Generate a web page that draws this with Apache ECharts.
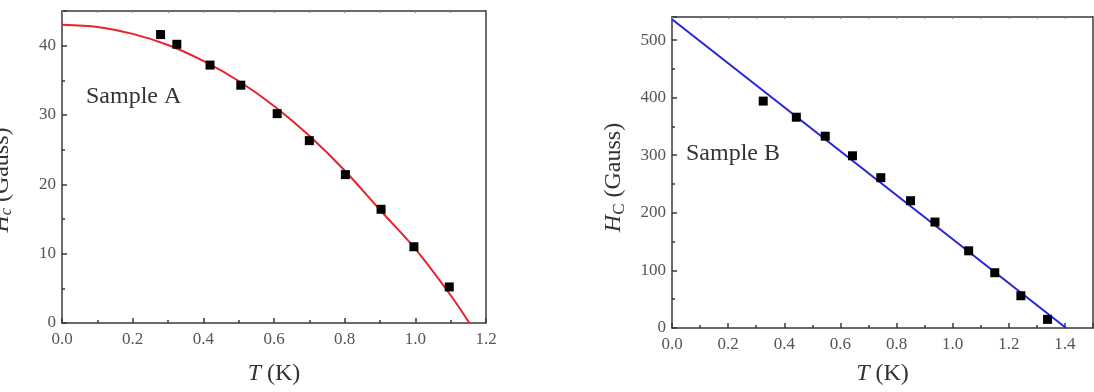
<!DOCTYPE html>
<html>
<head>
<meta charset="utf-8">
<script src="https://cdn.jsdelivr.net/npm/echarts@6/dist/echarts.min.js"></script>
<style>
html, body { margin: 0; padding: 0; background: #fff; }
#main { width: 1094px; height: 392px; }
</style>
</head>
<body>
<div id="main"></div>
<script>
// Sample A: measured points and fit curve
var tA = [0.279, 0.325, 0.419, 0.506, 0.609, 0.700, 0.802, 0.903, 0.996, 1.096];
var hA = [41.6, 40.2, 37.2, 34.3, 30.2, 26.3, 21.4, 16.4, 11.0, 5.2];
var fitTA = [0, 0.1, 0.2, 0.3, 0.4, 0.5, 0.6, 0.7, 0.8, 0.9, 1.0, 1.1, 1.153];
var fitHA = [43.0, 42.7, 41.7, 40.1, 37.8, 34.9, 31.3, 27.0, 22.0, 16.3, 10.7, 4.0, 0];

// Sample B: measured points and linear fit
var tB = [0.325, 0.443, 0.546, 0.643, 0.744, 0.850, 0.937, 1.057, 1.150, 1.243, 1.338];
var hB = [394, 366, 333, 299, 261, 221, 184, 134, 96, 56, 15];
var fitTB = [0, 1.404];
var fitHB = [536, 0];

function pairs(xs, ys) {
    var out = [];
    for (var i = 0; i < xs.length; i++) out.push([xs[i], ys[i]]);
    return out;
}

var serif = 'Liberation Serif';
var axisColor = '#3a3a3a';
var labelColor = '#555';

var nameRich = {
    i: { fontFamily: serif, fontSize: 24, fontStyle: 'italic', color: '#333' },
    n: { fontFamily: serif, fontSize: 24, color: '#333' },
    sub: { fontFamily: serif, fontSize: 17, color: '#333', padding: [11, 0, 0, 0] },
    subi: { fontFamily: serif, fontSize: 16, fontStyle: 'italic', color: '#333', padding: [11, 0, 0, 0] }
};

function mainX(idx, max, showMax, gap) {
    return {
        gridIndex: idx, type: 'value', min: 0, max: max, interval: 0.2,
        name: '{i|T}{n| (K)}', nameLocation: 'middle', nameGap: gap,
        nameTextStyle: { rich: nameRich },
        axisLine: { show: true, onZero: false, lineStyle: { color: axisColor, width: 1.5 } },
        axisTick: { show: true, inside: true, length: 5, lineStyle: { color: axisColor, width: 1.5 } },
        minorTick: { show: true, splitNumber: 2, length: 3, lineStyle: { color: axisColor, width: 1.5 } },
        axisLabel: {
            fontFamily: serif, fontSize: 17, color: labelColor, margin: 8, showMaxLabel: showMax,
            formatter: function (v) { return v.toFixed(1); }
        },
        splitLine: { show: false }
    };
}

function topX(idx, max) {
    return {
        gridIndex: idx, type: 'value', position: 'top', min: 0, max: max, interval: 0.1,
        axisLine: { show: true, onZero: false, lineStyle: { color: axisColor, width: 1.5 } },
        axisTick: { show: true, inside: true, length: 2, lineStyle: { color: '#888' } },
        axisLabel: { show: false },
        splitLine: { show: false }
    };
}

function mainY(idx, max, interval, name, gap, shift) {
    return {
        gridIndex: idx, type: 'value', min: 0, max: max, interval: interval,
        name: name, nameLocation: 'middle', nameGap: gap, nameRotate: 90,
        nameTextStyle: { rich: nameRich, padding: [0, shift, 0, 0] },
        axisLine: { show: true, onZero: false, lineStyle: { color: axisColor, width: 1.5 } },
        axisTick: { show: true, inside: true, length: 5, lineStyle: { color: axisColor, width: 1.5 } },
        minorTick: { show: true, splitNumber: 2, length: 3, lineStyle: { color: axisColor, width: 1.5 } },
        axisLabel: { fontFamily: serif, fontSize: 17, color: labelColor, margin: 6, showMaxLabel: false },
        splitLine: { show: false }
    };
}

function rightY(idx, max) {
    return {
        gridIndex: idx, type: 'value', position: 'right', min: 0, max: max,
        axisLine: { show: true, onZero: false, lineStyle: { color: axisColor, width: 1.5 } },
        axisTick: { show: false },
        axisLabel: { show: false },
        splitLine: { show: false }
    };
}

var myChart = echarts.init(document.getElementById('main'));
var option = {
    backgroundColor: '#fff',
    animation: false,
    grid: [
        { left: 62, top: 11, width: 424, height: 312, outerBoundsMode: 'none', containLabel: false },
        { left: 672, top: 17, width: 421, height: 311, outerBoundsMode: 'none', containLabel: false }
    ],
    xAxis: [mainX(0, 1.2, true, 39), topX(0, 1.2), mainX(1, 1.5, false, 34), topX(1, 1.5)],
    yAxis: [
        mainY(0, 45, 10, '{i|H}{subi|c}{n| (Gauss)}', 47, 26),
        rightY(0, 45),
        mainY(1, 540, 100, '{i|H}{sub|C}{n| (Gauss)}', 44, 10),
        rightY(1, 540)
    ],
    graphic: [
        { type: 'text', left: 86, top: 85, style: { text: 'Sample A', font: '24px ' + serif, fill: '#333' } },
        { type: 'text', left: 686, top: 142, style: { text: 'Sample B', font: '24px ' + serif, fill: '#333' } }
    ],
    series: [
        {
            name: 'fitA', type: 'line', xAxisIndex: 0, yAxisIndex: 0,
            data: pairs(fitTA, fitHA), smooth: 0.3, showSymbol: false,
            lineStyle: { color: '#e8212b', width: 2 }, z: 2
        },
        {
            name: 'A', type: 'scatter', xAxisIndex: 0, yAxisIndex: 0,
            data: pairs(tA, hA), symbol: 'rect', symbolSize: 9,
            itemStyle: { color: '#000', opacity: 1 }, z: 3
        },
        {
            name: 'fitB', type: 'line', xAxisIndex: 2, yAxisIndex: 2,
            data: pairs(fitTB, fitHB), showSymbol: false,
            lineStyle: { color: '#2424d8', width: 2 }, z: 2
        },
        {
            name: 'B', type: 'scatter', xAxisIndex: 2, yAxisIndex: 2,
            data: pairs(tB, hB), symbol: 'rect', symbolSize: 9,
            itemStyle: { color: '#000', opacity: 1 }, z: 3
        }
    ]
};
if (option && typeof option === "object") {
    myChart.setOption(option, true);
}
</script>
</body>
</html>
